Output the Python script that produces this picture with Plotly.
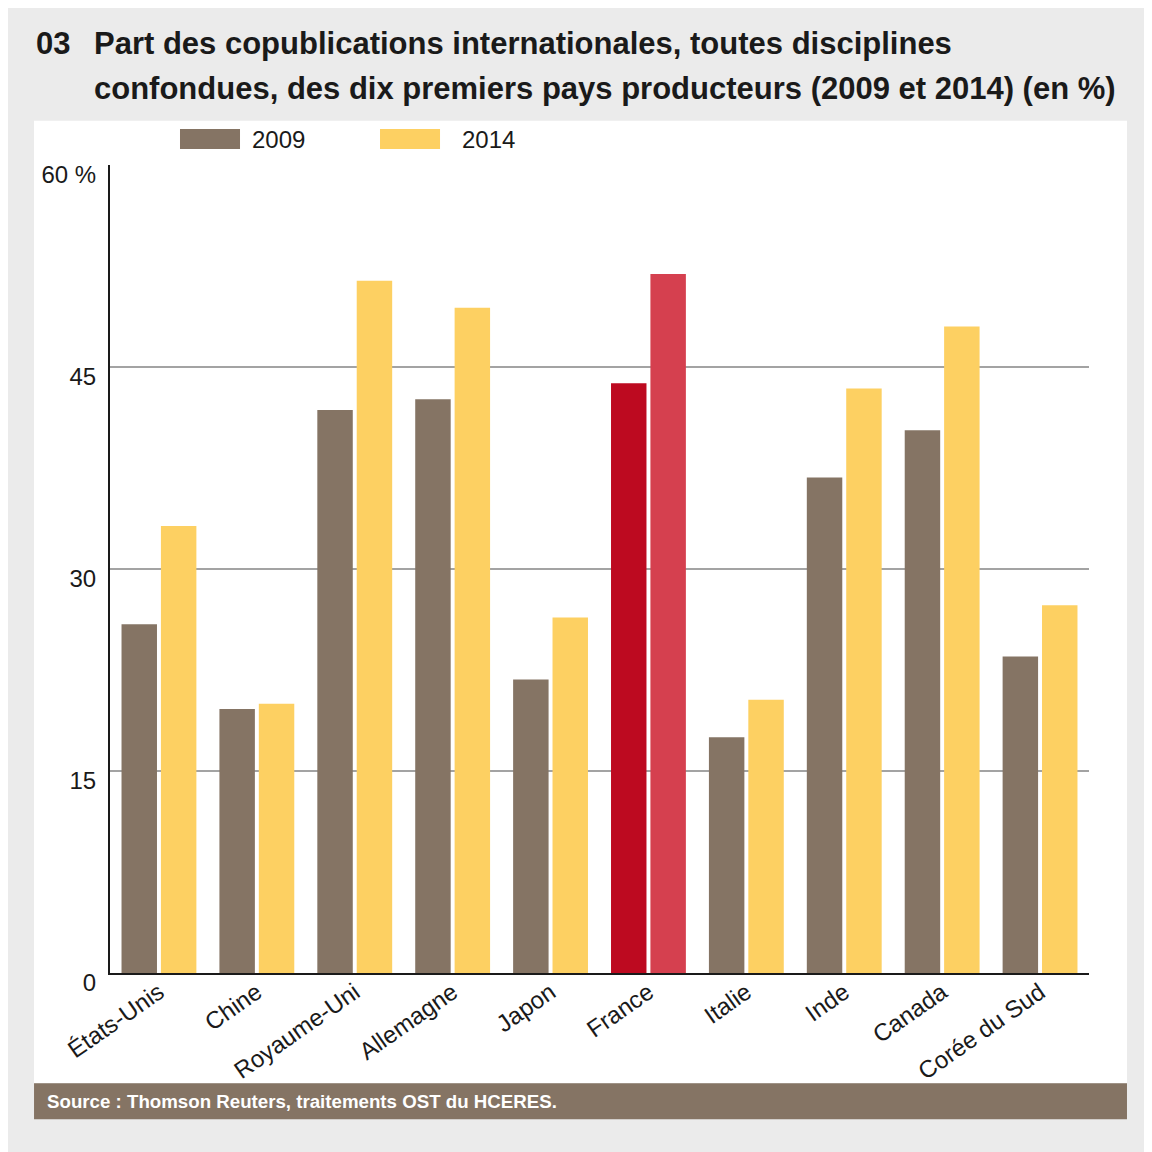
import plotly.graph_objects as go

categories = ["États-Unis", "Chine", "Royaume-Uni", "Allemagne", "Japon",
              "France", "Italie", "Inde", "Canada", "Corée du Sud"]
values_2009 = [25.9, 19.6, 41.8, 42.6, 21.8, 43.8, 17.5, 36.8, 40.3, 23.5]
values_2014 = [33.2, 20.0, 51.4, 49.4, 26.4, 51.9, 20.3, 43.4, 48.0, 27.3]
tick_vals = [0, 15, 30, 45, 60]
tick_text = ["0", "15", "30", "45", "60 %"]

BROWN = "#857464"
YELLOW = "#fdd062"
RED_2009 = "#bd0a20"
RED_2014 = "#d5404f"
FONT = "Liberation Sans, Arial, sans-serif"

colors_2009 = [RED_2009 if c == "France" else BROWN for c in categories]
colors_2014 = [RED_2014 if c == "France" else YELLOW for c in categories]

fig = go.Figure()
fig.add_trace(go.Bar(x=categories, y=values_2009, name="2009",
                     marker=dict(color=colors_2009, line=dict(width=0)),
                     showlegend=False))
fig.add_trace(go.Bar(x=categories, y=values_2014, name="2014",
                     marker=dict(color=colors_2014, line=dict(width=0)),
                     showlegend=False))

shapes = [
    dict(type="rect", xref="paper", yref="paper", x0=-0.0776, x1=1.0388,
         y0=-0.1365, y1=1.0548, fillcolor="white", line=dict(width=0), layer="below"),
    dict(type="rect", xref="paper", yref="paper", x0=-0.0776, x1=1.0388,
         y0=-0.1811, y1=-0.1365, fillcolor=BROWN, line=dict(width=0), layer="below"),
    dict(type="rect", xref="paper", yref="paper", x0=0.0715, x1=0.1328,
         y0=1.0198, y1=1.0446, fillcolor=BROWN, line=dict(width=0)),
    dict(type="rect", xref="paper", yref="paper", x0=0.2758, x1=0.3371,
         y0=1.0198, y1=1.0446, fillcolor=YELLOW, line=dict(width=0)),
]

annotations = [
    dict(text="<b>03</b>", xref="paper", yref="paper", x=-0.0776, y=1.1507,
         xanchor="left", yanchor="middle", showarrow=False,
         font=dict(family=FONT, size=31, color="#1a1a1a")),
    dict(text="<b>Part des copublications internationales, toutes disciplines</b>",
         xref="paper", yref="paper", x=-0.0185, y=1.1507,
         xanchor="left", yanchor="middle", showarrow=False,
         font=dict(family=FONT, size=31, color="#1a1a1a")),
    dict(text="<b>confondues, des dix premiers pays producteurs (2009 et 2014) (en %)</b>",
         xref="paper", yref="paper", x=-0.0185, y=1.0947,
         xanchor="left", yanchor="middle", showarrow=False,
         font=dict(family=FONT, size=31, color="#1a1a1a")),
    dict(text="2009", xref="paper", yref="paper", x=0.143, y=1.032,
         xanchor="left", yanchor="middle", showarrow=False,
         font=dict(family=FONT, size=24, color="#1a1a1a")),
    dict(text="2014", xref="paper", yref="paper", x=0.3575, y=1.032,
         xanchor="left", yanchor="middle", showarrow=False,
         font=dict(family=FONT, size=24, color="#1a1a1a")),
    dict(text="<b>Source : Thomson Reuters, traitements OST du HCERES.</b>",
         xref="paper", yref="paper", x=-0.066, y=-0.1588,
         xanchor="left", yanchor="middle", showarrow=False,
         font=dict(family=FONT, size=18.7, color="white")),
]

fig.update_layout(
    width=1144, height=1144,
    margin=dict(l=102, r=63, t=157, b=179),
    paper_bgcolor="#ebebeb",
    plot_bgcolor="white",
    barmode="group",
    bargap=0.195,
    bargroupgap=0.10,
    shapes=shapes,
    annotations=annotations,
    font=dict(family=FONT, size=24, color="#1a1a1a"),
)
fig.update_xaxes(
    showline=True, linecolor="#1a1a1a", linewidth=2,
    showgrid=False, ticks="", tickangle=-35,
    tickfont=dict(family=FONT, size=24, color="#1a1a1a"),
    ticklabelstandoff=-6,
)
fig.update_yaxes(
    range=[0, 60], tickvals=tick_vals, ticktext=tick_text,
    showline=True, linecolor="#1a1a1a", linewidth=2,
    showgrid=True, gridcolor="#a3a3a3", gridwidth=2,
    zeroline=False, ticks="",
    tickfont=dict(family=FONT, size=24, color="#1a1a1a"),
    ticklabelstandoff=7, ticklabelshift=10,
)

fig.write_html("out.html")
